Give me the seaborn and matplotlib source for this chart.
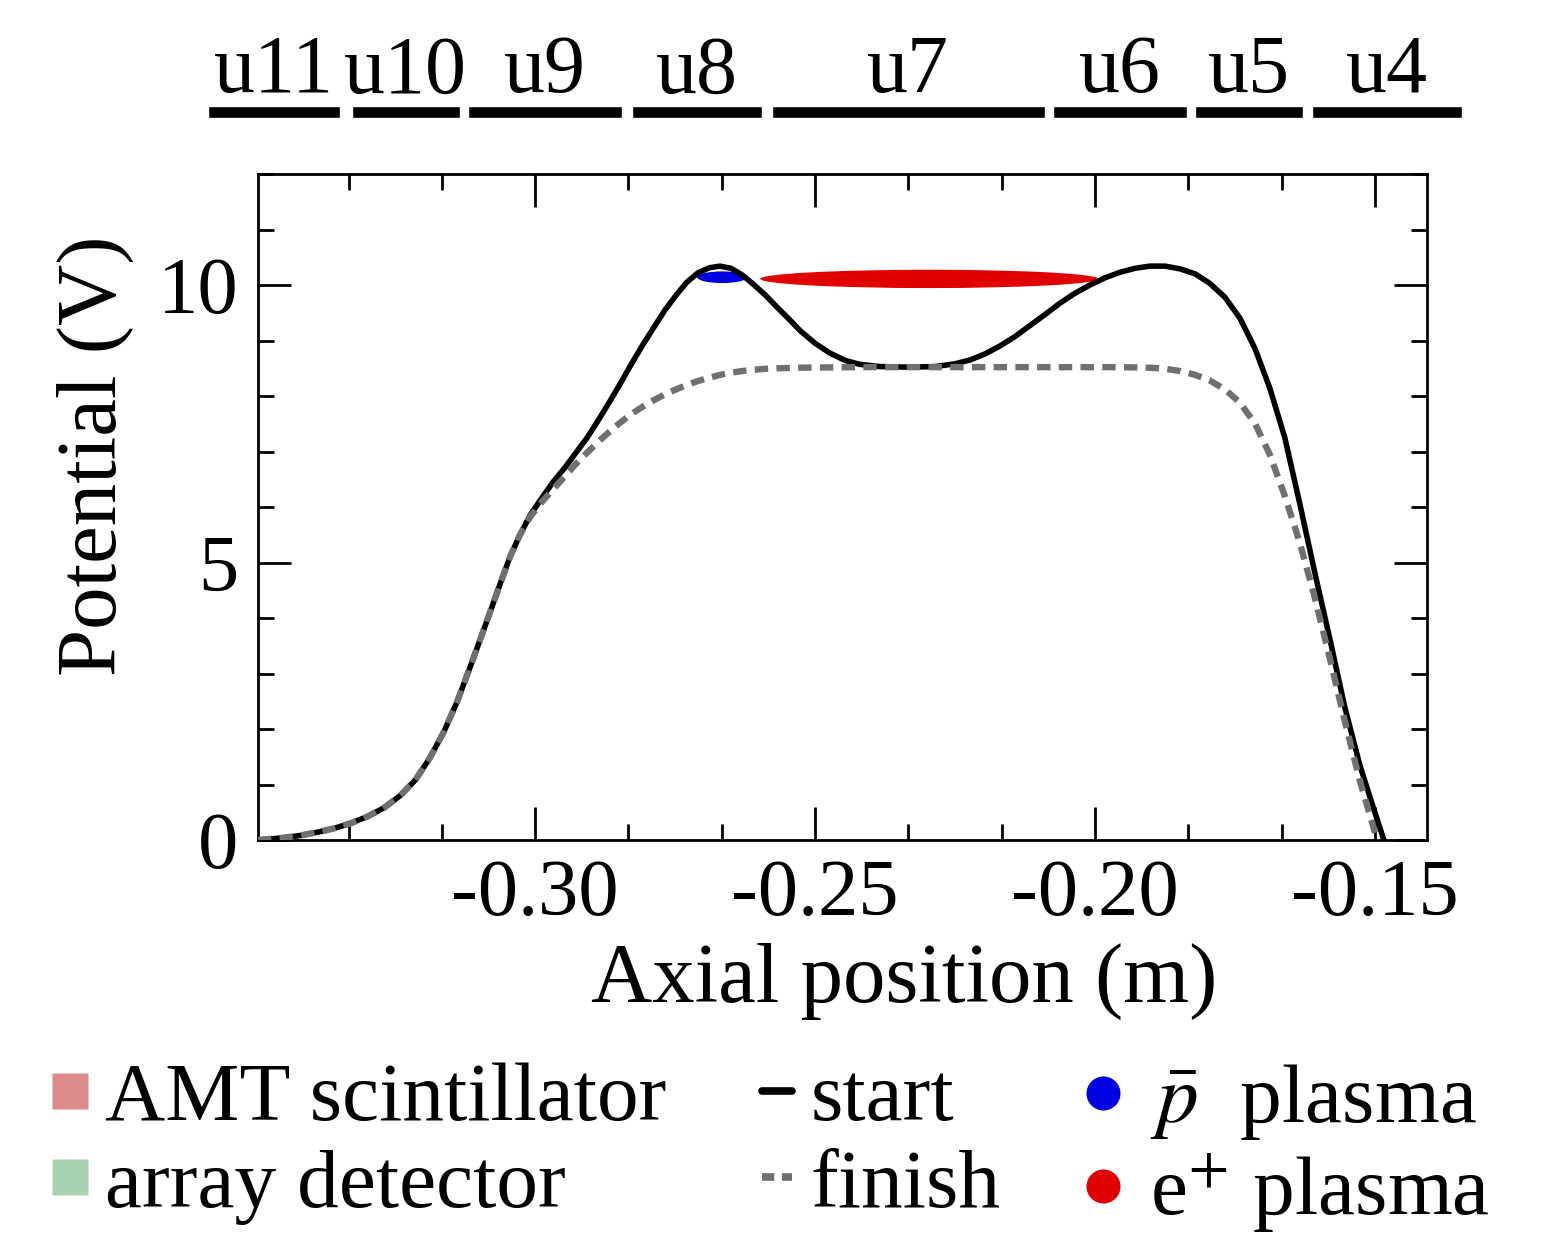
import matplotlib
matplotlib.use("Agg")
import matplotlib.pyplot as plt
from matplotlib.patches import Ellipse
from matplotlib.lines import Line2D
from matplotlib.ticker import MultipleLocator, FormatStrFormatter
import seaborn as sns

# potential at the start of the transfer
start_x = [-0.3495, -0.3450, -0.3420, -0.3389, -0.3359, -0.3330, -0.3300, -0.3270,
           -0.3241, -0.3214, -0.3188, -0.3163, -0.3139, -0.3113, -0.3086, -0.3063,
           -0.3045, -0.3027, -0.3009, -0.2989, -0.2968, -0.2946, -0.2927, -0.2907,
           -0.2888, -0.2868, -0.2848, -0.2829, -0.2809, -0.2789, -0.2768, -0.2748,
           -0.2729, -0.2709, -0.2689, -0.2670, -0.2650, -0.2630, -0.2611, -0.2589,
           -0.2568, -0.2546, -0.2527, -0.2500, -0.2473, -0.2446, -0.2420, -0.2384,
           -0.2334, -0.2286, -0.2250, -0.2223, -0.2196, -0.2170, -0.2143, -0.2116,
           -0.2089, -0.2063, -0.2036, -0.2009, -0.1982, -0.1955, -0.1929, -0.1902,
           -0.1875, -0.1848, -0.1821, -0.1795, -0.1768, -0.1741, -0.1714, -0.1688,
           -0.1661, -0.1634, -0.1607, -0.1580, -0.1554, -0.1527, -0.1505, -0.1484]
start_v = [0.00, 0.04, 0.08, 0.14, 0.21, 0.30, 0.42, 0.58,
           0.80, 1.08, 1.48, 1.95, 2.50, 3.20, 3.95, 4.60,
           5.10, 5.50, 5.85, 6.15, 6.45, 6.72, 6.98, 7.25,
           7.55, 7.88, 8.22, 8.56, 8.90, 9.22, 9.55, 9.82,
           10.05, 10.22, 10.31, 10.34, 10.30, 10.18, 10.02, 9.82,
           9.60, 9.38, 9.18, 8.95, 8.77, 8.64, 8.57, 8.53,
           8.52, 8.53, 8.58, 8.65, 8.76, 8.90, 9.07, 9.27,
           9.47, 9.67, 9.85, 10.00, 10.13, 10.23, 10.30, 10.34,
           10.34, 10.29, 10.20, 10.03, 9.78, 9.40, 8.85, 8.15,
           7.25, 6.05, 4.80, 3.60, 2.40, 1.35, 0.65, 0.00]

# potential at the end of the transfer
finish_x = [-0.3495, -0.3450, -0.3420, -0.3389, -0.3359, -0.3330, -0.3300, -0.3270,
            -0.3241, -0.3214, -0.3188, -0.3163, -0.3139, -0.3113, -0.3086, -0.3063,
            -0.3045, -0.3027, -0.3009, -0.2989, -0.2968, -0.2946, -0.2927, -0.2907,
            -0.2888, -0.2868, -0.2848, -0.2829, -0.2809, -0.2789, -0.2768, -0.2748,
            -0.2729, -0.2709, -0.2689, -0.2670, -0.2650, -0.2630, -0.2611, -0.2589,
            -0.2568, -0.2527, -0.2420, -0.2170, -0.1955, -0.1902, -0.1875, -0.1848,
            -0.1821, -0.1795, -0.1768, -0.1741, -0.1714, -0.1688, -0.1661, -0.1634,
            -0.1607, -0.1580, -0.1554, -0.1527, -0.1496]
finish_v = [0.00, 0.04, 0.08, 0.14, 0.21, 0.30, 0.42, 0.58,
            0.80, 1.08, 1.48, 1.95, 2.50, 3.20, 3.95, 4.60,
            5.10, 5.50, 5.82, 6.08, 6.32, 6.56, 6.78, 6.98,
            7.17, 7.35, 7.52, 7.67, 7.80, 7.92, 8.03, 8.12,
            8.20, 8.27, 8.33, 8.38, 8.42, 8.45, 8.47, 8.49,
            8.50, 8.51, 8.52, 8.52, 8.52, 8.51, 8.49, 8.45,
            8.38, 8.28, 8.12, 7.88, 7.50, 6.95, 6.20, 5.35,
            4.35, 3.25, 2.15, 1.07, 0.00]

# electrodes above the plot
electrode_names = ["u11", "u10", "u9", "u8", "u7", "u6", "u5", "u4"]
electrode_lo = [-0.3584, -0.3327, -0.3120, -0.2827, -0.2577, -0.2075, -0.1821, -0.1613]
electrode_hi = [-0.3348, -0.3134, -0.2845, -0.2595, -0.2089, -0.1836, -0.1629, -0.1345]

# plasmas drawn as ellipses
plasma_labels = [r"$\bar{p}$  plasma", r"e$^{+}$ plasma"]
plasma_x = [-0.2666, -0.2296]
plasma_v = [10.14, 10.11]
plasma_w = [0.0089, 0.0604]
plasma_h = [0.21, 0.33]
plasma_colors = ["#0000e0", "#e00000"]

detector_labels = ["AMT scintillator", "array detector"]
detector_colors = ["#dc8a8a", "#a8d3b0"]

W, H = 1551, 1239

sns.set_theme(style="ticks")
plt.rcParams["font.family"] = ["Liberation Serif", "DejaVu Serif"]
plt.rcParams["mathtext.fontset"] = "stix"
plt.rcParams["axes.unicode_minus"] = False
for key in ["text.color", "axes.labelcolor", "xtick.color", "ytick.color", "axes.edgecolor"]:
    plt.rcParams[key] = "black"

fig = plt.figure(figsize=(W / 100, H / 100), dpi=100)
ax = fig.add_axes([258 / W, 1 - 840 / H, (1427 - 258) / W, (840 - 174) / H])

for x, v, w, h, c in zip(plasma_x, plasma_v, plasma_w, plasma_h, plasma_colors):
    ax.add_patch(Ellipse((x, v), w, h, color=c, lw=0, zorder=2))

sns.lineplot(x=start_x, y=start_v, sort=False, color="black", lw=4.0, ax=ax, zorder=3)
sns.lineplot(x=finish_x, y=finish_v, sort=False, color="#707070", lw=4.6,
             linestyle=(0, (2.1, 1.3)), ax=ax, zorder=4)

ax.set_xlim(-0.3495, -0.1407)
ax.set_ylim(0, 12)
ax.xaxis.set_major_locator(MultipleLocator(0.05))
ax.xaxis.set_minor_locator(MultipleLocator(0.05 / 3))
ax.xaxis.set_major_formatter(FormatStrFormatter("%.2f"))
ax.yaxis.set_major_locator(MultipleLocator(5))
ax.yaxis.set_minor_locator(MultipleLocator(1))
ax.tick_params(which="both", direction="in", top=True, right=True, width=2,
               labelsize=58, color="black", labelcolor="black")
ax.tick_params(which="major", length=24, pad=14)
ax.tick_params(which="minor", length=11.5)
for sp in ax.spines.values():
    sp.set_linewidth(2)
    sp.set_color("black")

ax.set_xlabel("Axial position (m)", fontsize=61)
ax.set_ylabel("Potential (V)", fontsize=61)
ax.xaxis.set_label_coords(0.553, -0.155)
ax.yaxis.set_label_coords(-0.106, 0.577)

# electrode bars
top = fig.add_axes([200 / W, 1 - 125 / H, 1270 / W, 105 / H])
top.set_xlim(-0.3598, -0.1330)
top.set_ylim(0, 1)
top.axis("off")
for name, lo, hi in zip(electrode_names, electrode_lo, electrode_hi):
    top.barh(0.124, hi - lo, left=lo, height=0.114, color="black")
    top.text((lo + hi) / 2, 0.31, name, ha="center", va="baseline", fontsize=59)

# legends
det_handles = [Line2D([], [], marker="s", ls="none", ms=26, mfc=c, mec="none")
               for c in detector_colors]
line_handles = [Line2D([], [], color="black", lw=5.5),
                Line2D([], [], color="#707070", lw=5.5, ls=(0, (1.6, 1.0)))]
plasma_handles = [Line2D([], [], marker="o", ls="none", ms=24.5, mfc=c, mec="none")
                  for c in plasma_colors]

common = dict(frameon=False, fontsize=60, borderpad=0, borderaxespad=0,
              labelspacing=0.12, handlelength=0.36, loc="upper left")
y_leg = 1 - 1062 / H
fig.legend(det_handles, detector_labels, bbox_to_anchor=(55 / W, y_leg),
           handletextpad=0.24, **common)
fig.legend(line_handles, ["start", "finish"], bbox_to_anchor=(762 / W, y_leg),
           handletextpad=0.22, **common)
fig.legend(plasma_handles, plasma_labels, bbox_to_anchor=(1088 / W, y_leg),
           handletextpad=0.39, **common)

fig.savefig("out.png", dpi=100)
